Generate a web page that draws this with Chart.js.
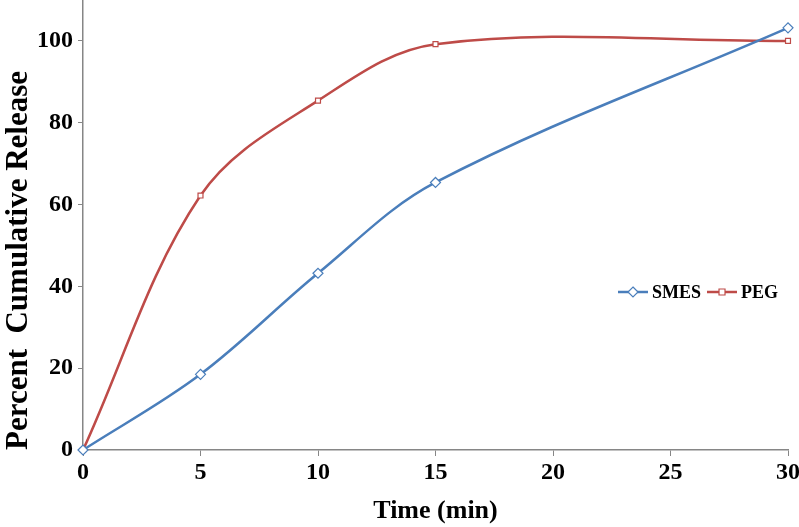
<!DOCTYPE html>
<html>
<head>
<meta charset="utf-8">
<script src="https://cdn.jsdelivr.net/npm/chart.js@4"></script>
<style>
  html, body { margin: 0; padding: 0; background: #fff; }
  #wrap { width: 799px; height: 527px; }
</style>
</head>
<body>
<div id="wrap"><canvas id="releaseChart" width="799" height="527"></canvas></div>
<script>
// time points (min)
const times = [0, 5, 10, 15, 30];
const smes = [0, 18.5, 43.2, 65.4, 103.2];
const peg = [0, 62.2, 85.4, 99.2, 100];
const xTicks = [0, 5, 10, 15, 20, 25, 30];
const yTicks = [0, 20, 40, 60, 80, 100];

const blue = "#4A7EBB";
const red = "#BE4B48";
const axisGray = "#868686";
const serif = "'Liberation Serif', 'Times New Roman', serif";

const toPoints = (xs, ys) => xs.map((x, i) => ({ x: x, y: ys[i] }));

// legend sits inside the plot, lower right
const legendPlugin = {
  id: "insideLegend",
  afterDraw(chart) {
    const ctx = chart.ctx;
    const area = chart.chartArea;
    const y = area.top + 292;
    let x = area.right - 170;
    ctx.save();
    ctx.font = "bold 18px " + serif;
    ctx.textBaseline = "middle";
    chart.data.datasets.forEach((ds) => {
      ctx.strokeStyle = ds.borderColor;
      ctx.lineWidth = 2.5;
      ctx.beginPath();
      ctx.moveTo(x, y);
      ctx.lineTo(x + 30, y);
      ctx.stroke();
      ctx.lineWidth = 1.2;
      ctx.fillStyle = "#fff";
      ctx.beginPath();
      if (ds.pointStyle === "rectRot") {
        ctx.moveTo(x + 15, y - 5);
        ctx.lineTo(x + 20, y);
        ctx.lineTo(x + 15, y + 5);
        ctx.lineTo(x + 10, y);
        ctx.closePath();
      } else {
        ctx.rect(x + 12, y - 3, 6, 6);
      }
      ctx.fill();
      ctx.stroke();
      ctx.fillStyle = "#000";
      ctx.fillText(ds.label, x + 34, y + 1);
      x += 34 + ctx.measureText(ds.label).width + 6;
    });
    ctx.restore();
  },
};

const drawChart = () => {
  const ctx = document.getElementById("releaseChart").getContext("2d");
  new Chart(ctx, {
    type: "line",
    data: {
      datasets: [
        {
          label: "SMES",
          data: toPoints(times, smes),
          borderColor: blue,
          backgroundColor: "#fff",
          borderWidth: 2.5,
          pointStyle: "rectRot",
          pointRadius: 5,
          pointBorderWidth: 1.2,
          tension: 0.35,
          clip: false,
        },
        {
          label: "PEG",
          data: toPoints(times, peg),
          borderColor: red,
          backgroundColor: "#fff",
          borderWidth: 2.5,
          pointStyle: "rect",
          pointRadius: 3.5,
          pointBorderWidth: 1.2,
          tension: 0.35,
          clip: false,
        },
      ],
    },
    options: {
      responsive: false,
      animation: false,
      layout: { autoPadding: false, padding: { top: 0, right: 11, left: 0, bottom: 0 } },
      plugins: {
        legend: { display: false },
        tooltip: { enabled: false },
      },
      scales: {
        x: {
          type: "linear",
          min: 0,
          max: 30,
          afterBuildTicks: (scale) => {
            scale.ticks = xTicks.map((v) => ({ value: v }));
          },
          afterFit: (scale) => {
            scale.height = 77;
            scale.paddingLeft = 0;
            scale.paddingRight = 0;
          },
          grid: { drawOnChartArea: false, color: axisGray, tickLength: 6 },
          border: { color: axisGray, width: 1.5 },
          ticks: {
            color: "#000",
            padding: 2,
            maxRotation: 0,
            font: { family: serif, size: 24, weight: "bold" },
          },
          title: {
            display: true,
            text: "Time (min)",
            color: "#000",
            padding: { top: 0, bottom: 0 },
            font: { family: serif, size: 26, weight: "bold" },
          },
        },
        y: {
          min: 0,
          max: 110,
          afterBuildTicks: (scale) => {
            scale.ticks = yTicks.map((v) => ({ value: v }));
          },
          afterFit: (scale) => {
            scale.width = 83;
            scale.paddingTop = 0;
            scale.paddingBottom = 0;
          },
          grid: { drawOnChartArea: false, color: axisGray, tickLength: 5 },
          border: { color: axisGray, width: 1.5 },
          ticks: {
            color: "#000",
            padding: 5,
            font: { family: serif, size: 24, weight: "bold" },
          },
          title: {
            display: true,
            text: "Percent  Cumulative Release",
            align: "start",
            color: "#000",
            padding: { top: 0, bottom: 0 },
            font: { family: serif, size: 31, weight: "bold" },
          },
        },
      },
    },
    plugins: [legendPlugin],
  });
};

drawChart();
</script>
</body>
</html>
